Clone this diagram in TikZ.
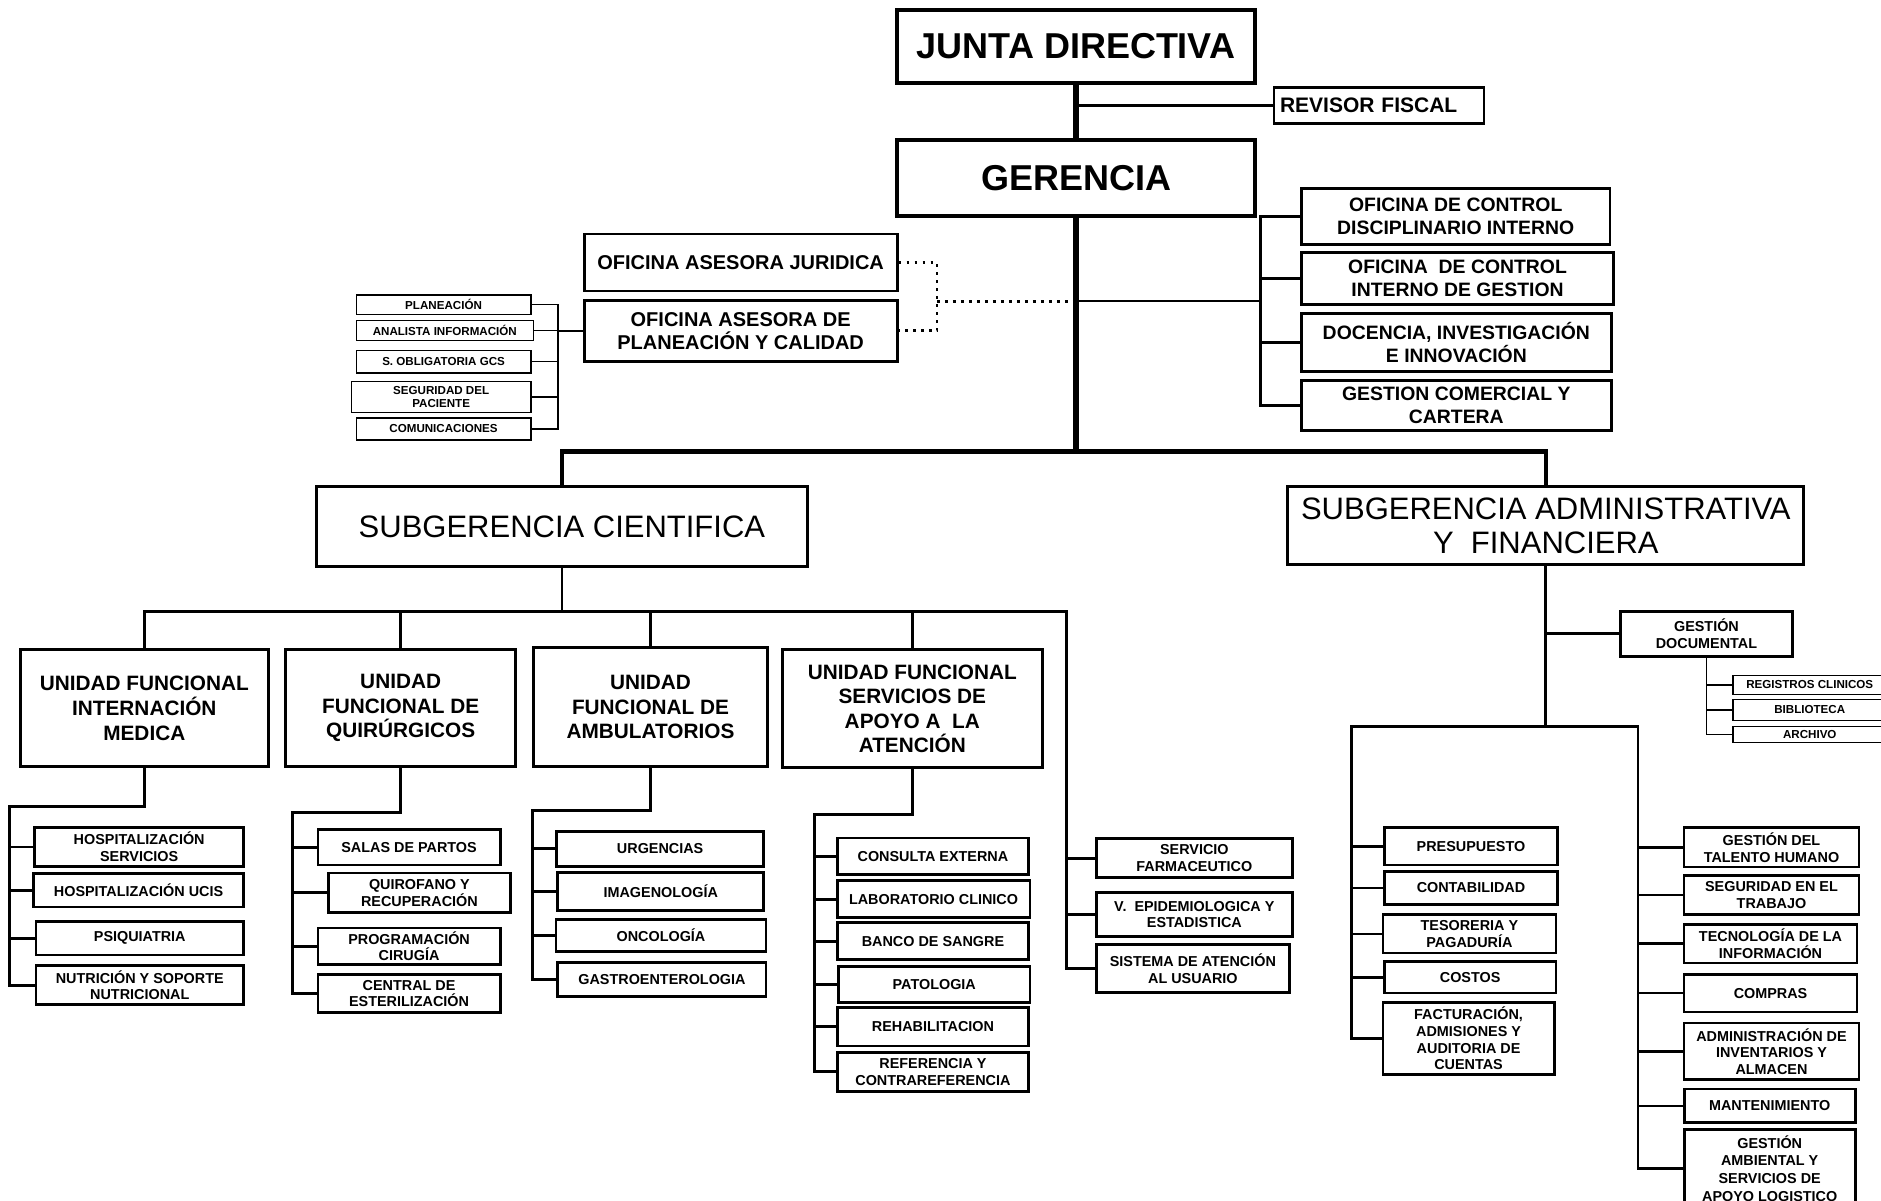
\documentclass[tikz,border=0pt]{standalone}
\usepackage{fontspec}
\setmainfont{Liberation Sans}

\tikzset{every picture/.style={line width=0.75pt}}
\tikzset{
  wh/.style 2 args={minimum width=0.6pt*#1, minimum height=0.6pt*#2},
  topbox/.style={draw, line width=2pt, inner sep=0pt, font=\bfseries\fontsize{18}{21}\selectfont},
  ofibox/.style={draw, line width=1.4pt, inner sep=0pt, align=center, font=\bfseries\fontsize{9.7}{11.4}\selectfont},
  subgbox/.style={draw, line width=1.5pt, inner sep=0pt, align=center, font=\fontsize{15.5}{16.8}\selectfont},
  ufbox/.style={draw, line width=1.5pt, inner sep=0pt, align=center, font=\bfseries\fontsize{10.4}{12.3}\selectfont},
  unitbox/.style={draw, line width=1.4pt, inner sep=0pt, align=center, font=\bfseries\fontsize{7.2}{8.3}\selectfont},
  tinybox/.style={draw, line width=0.7pt, inner sep=0pt, align=center, font=\bfseries\fontsize{5.8}{6.6}\selectfont},
  trunk/.style={line width=3pt},
  bar/.style={line width=2.2pt},
  bus/.style={line width=1.4pt},
  thinbus/.style={line width=0.8pt},
  dotline/.style={line width=1.4pt, dash pattern=on 1.4pt off 2.6pt}
}

\begin{document}
\begin{tikzpicture}[x=0.6pt,y=0.6pt,yscale=-1,xscale=1]
    \useasboundingbox (0,0) rectangle (1568,1001);
    \clip (0,0) rectangle (1568,1001);
    %Shape: Rectangle -- direccion
    \node[topbox, wh={298}{61}] (jd) at (897,38.5) {JUNTA DIRECTIVA};
    \node[topbox, wh={298}{63}] (ger) at (897,148.5) {GERENCIA};
    \node[ofibox, wh={175}{30}, text width=0.6pt*165, align=left, font=\bfseries\fontsize{10.5}{12}\selectfont] (rf) at (1149.5,88) {REVISOR FISCAL};
    % oficinas a la derecha
    \node[ofibox, wh={257}{47}] (cdi) at (1213.5,180.5) {OFICINA DE CONTROL\\DISCIPLINARIO INTERNO};
    \node[ofibox, wh={260}{43}] (cig) at (1215,232) {OFICINA~~DE CONTROL\\INTERNO DE GESTION};
    \node[ofibox, wh={258}{49}] (dii) at (1214,285.5) {DOCENCIA, INVESTIGACIÓN\\E INNOVACIÓN};
    \node[ofibox, wh={258}{42}] (gcc) at (1214,338) {GESTION COMERCIAL Y\\CARTERA};
    % asesoras
    \node[ofibox, wh={261}{47.6}, font=\bfseries\fontsize{10}{11.6}\selectfont] (oaj) at (617.4,218.8) {OFICINA ASESORA JURIDICA};
    \node[ofibox, wh={261}{51}, font=\bfseries\fontsize{10}{11.6}\selectfont] (oapc) at (617.4,275.7) {OFICINA ASESORA DE\\PLANEACIÓN Y CALIDAD};
    \node[tinybox, wh={145.5}{16.2}] (plan) at (369.75,253.9) {PLANEACIÓN};
    \node[tinybox, wh={147.6}{17}] (anal) at (370.8,275.5) {ANALISTA INFORMACIÓN};
    \node[tinybox, wh={145.5}{19}] (sogc) at (369.75,301.5) {S. OBLIGATORIA GCS};
    \node[tinybox, wh={149.5}{26}] (segp) at (367.75,331) {SEGURIDAD DEL\\PACIENTE};
    \node[tinybox, wh={145.5}{18.2}] (comu) at (369.75,357.6) {COMUNICACIONES};
    % subgerencias
    \node[subgbox, wh={409}{66.4}] (sc) at (468.4,438.8) {SUBGERENCIA CIENTIFICA};
    \node[subgbox, wh={430.3}{65.2}] (saf) at (1288.6,438.2) {SUBGERENCIA ADMINISTRATIVA\\Y~~FINANCIERA};
    % unidades funcionales
    \node[ufbox, wh={206.6}{97.3}] (ufim) at (120.3,590.4) {UNIDAD FUNCIONAL\\INTERNACIÓN\\MEDICA};
    \node[ufbox, wh={192}{97.3}] (ufq) at (334,590.4) {UNIDAD\\FUNCIONAL DE\\QUIRÚRGICOS};
    \node[ufbox, wh={194.5}{99}] (ufa) at (542.3,589.5) {UNIDAD\\FUNCIONAL DE\\AMBULATORIOS};
    \node[ufbox, wh={217}{98.3}] (ufs) at (760.5,590.9) {UNIDAD FUNCIONAL\\SERVICIOS DE\\APOYO A~~LA\\ATENCIÓN};
    % internacion
    \node[unitbox, wh={174}{32}] (hs) at (116,706) {HOSPITALIZACIÓN\\SERVICIOS};
    \node[unitbox, wh={175}{28}] (hu) at (115.5,742) {HOSPITALIZACIÓN UCIS};
    \node[unitbox, wh={173}{28}] (ps) at (116.5,782) {PSIQUIATRIA};
    \node[unitbox, wh={173}{32.5}] (nut) at (116.5,821.3) {NUTRICIÓN Y SOPORTE\\NUTRICIONAL};
    % quirurgicos
    \node[unitbox, wh={152}{29.3}] (sp) at (341,706.4) {SALAS DE PARTOS};
    \node[unitbox, wh={152}{32.8}] (qr) at (349.6,744.2) {QUIROFANO Y\\RECUPERACIÓN};
    \node[unitbox, wh={152}{30.4}] (pc) at (341,788.8) {PROGRAMACIÓN\\CIRUGÍA};
    \node[unitbox, wh={152}{31.5}] (ce) at (341,828.3) {CENTRAL DE\\ESTERILIZACIÓN};
    % ambulatorios
    \node[unitbox, wh={172.6}{29}] (urg) at (550.3,707.5) {URGENCIAS};
    \node[unitbox, wh={171.6}{32}] (img) at (550.8,743) {IMAGENOLOGÍA};
    \node[unitbox, wh={175}{26.3}] (onc) at (551,779.9) {ONCOLOGÍA};
    \node[unitbox, wh={173.6}{28.5}] (gas) at (551.8,816.3) {GASTROENTEROLOGIA};
    % apoyo a la atencion
    \node[unitbox, wh={159.7}{30.4}] (cex) at (777.7,713.8) {CONSULTA EXTERNA};
    \node[unitbox, wh={160.7}{31}] (lab) at (778.2,749.5) {LABORATORIO CLINICO};
    \node[unitbox, wh={159.7}{31}] (bds) at (777.7,784.5) {BANCO DE SANGRE};
    \node[unitbox, wh={159.5}{30}] (pat) at (778.8,820.5) {PATOLOGIA};
    \node[unitbox, wh={159.7}{32}] (reh) at (777.7,856) {REHABILITACION};
    \node[unitbox, wh={159.5}{32.7}] (cref) at (777.7,893.4) {REFERENCIA Y\\CONTRAREFERENCIA};
    \node[unitbox, wh={163.8}{32.7}] (sf) at (995.6,715.4) {SERVICIO\\FARMACEUTICO};
    \node[unitbox, wh={163.8}{36.5}] (vep) at (995.6,762.3) {V.~~EPIDEMIOLOGICA Y\\ESTADISTICA};
    \node[unitbox, wh={161.3}{40}] (sau) at (994.4,807.5) {SISTEMA DE ATENCIÓN\\AL USUARIO};
    % administrativa
    \node[unitbox, wh={143}{37.3}] (gd) at (1422.5,528.4) {GESTIÓN\\DOCUMENTAL};
    \node[tinybox, wh={128}{16}] (rc) at (1508.6,571) {REGISTROS CLINICOS};
    \node[tinybox, wh={128}{17.6}] (bib) at (1508.6,591.8) {BIBLIOTECA};
    \node[tinybox, wh={128}{13.4}] (arc) at (1508.6,612.3) {ARCHIVO};
    \node[unitbox, wh={144.4}{31}] (pre) at (1226.2,705.5) {PRESUPUESTO};
    \node[unitbox, wh={144.4}{27.6}] (con) at (1226.2,740.2) {CONTABILIDAD};
    \node[unitbox, wh={144.2}{31.9}] (tes) at (1224.9,778.5) {TESORERIA Y\\PAGADURÍA};
    \node[unitbox, wh={143}{26.4}] (cost) at (1225.5,814.6) {COSTOS};
    \node[unitbox, wh={142.8}{60.3}] (fac) at (1224.2,865.7) {FACTURACIÓN,\\ADMISIONES Y\\AUDITORIA DE\\CUENTAS};
    \node[unitbox, wh={145.8}{32.8}] (gth) at (1476.7,706.4) {GESTIÓN DEL\\TALENTO HUMANO};
    \node[unitbox, wh={145.8}{32}] (set) at (1476.7,746) {SEGURIDAD EN EL\\TRABAJO};
    \node[unitbox, wh={144.2}{32}] (tec) at (1475.9,786.8) {TECNOLOGÍA DE LA\\INFORMACIÓN};
    \node[unitbox, wh={144.2}{31.6}] (com) at (1475.9,827.8) {COMPRAS};
    \node[unitbox, wh={145.8}{47.2}] (adm) at (1476.7,876.4) {ADMINISTRACIÓN DE\\INVENTARIOS Y\\ALMACEN};
    \node[unitbox, wh={142.7}{28.2}] (man) at (1475.2,921.9) {MANTENIMIENTO};
    \node[unitbox, wh={142.7}{64.3}, font=\bfseries\fontsize{7.2}{8.8}\selectfont] (gam) at (1475.2,973.9) {GESTIÓN\\AMBIENTAL Y\\SERVICIOS DE\\APOYO LOGISTICO};

    %Straight Lines -- tronco
    \coordinate (gbar) at (897,376.4);
    \draw[trunk] (jd.south) -- (ger.north);
    \draw[bus] (rf.west) -- (rf.west -| ger.north);
    \draw[trunk] (ger.south) -- (gbar);
    \draw[bar] (sc.north) |- (gbar) -| (saf.north);
    % oficinas de control
    \coordinate (rbr) at (1051,251);
    \draw[thinbus] (gbar |- rbr) -- (rbr);
    \draw[bus] (cdi.west) -| (rbr) |- (gcc.west);
    \foreach \n in {cig,dii} \draw[bus] (rbr |- \n.west) -- (\n.west);
    % asesoras, punteado
    \coordinate (dotv) at (781,251);
    \draw[dotline] (oaj.east) -| (dotv) |- (oapc.east);
    \draw[dotline] (dotv) -- (gbar |- dotv);
    \coordinate (pbr) at (465,253.9);
    \draw[thinbus] (plan.east) -- (pbr) |- (comu.east);
    \foreach \n in {anal,sogc,segp} \draw[thinbus] (\n.east) -- (\n.east -| pbr);
    \draw[thinbus] (oapc.west) -- (oapc.west -| pbr);
    % subgerencia cientifica
    \coordinate (scbar) at (889,509.7);
    \draw[bus] (sc.south) -- (sc.south |- scbar);
    \draw[bus] (ufim.north) |- (scbar) |- (sau.west);
    \foreach \n in {ufq,ufa,ufs} \draw[bus] (\n.north) -- (\n.north |- scbar);
    \foreach \n in {sf,vep} \draw[bus] (scbar |- \n.west) -- (\n.west);
    \coordinate (imbus) at (7.8,672);
    \draw[bus] (ufim.south) |- (imbus) |- (nut.west);
    \foreach \n in {hs,hu,ps} \draw[bus] (imbus |- \n.west) -- (\n.west);
    \coordinate (qbus) at (243.6,677);
    \draw[bus] (ufq.south) |- (qbus) |- (ce.west);
    \foreach \n in {sp,qr,pc} \draw[bus] (qbus |- \n.west) -- (\n.west);
    \coordinate (abus) at (444,675.6);
    \draw[bus] (ufa.south) |- (abus) |- (gas.west);
    \foreach \n in {urg,img,onc} \draw[bus] (abus |- \n.west) -- (\n.west);
    \coordinate (sbus) at (679.2,679);
    \draw[bus] (ufs.south) |- (sbus) |- (cref.west);
    \foreach \n in {cex,lab,bds,pat,reh} \draw[bus] (sbus |- \n.west) -- (\n.west);
    % subgerencia administrativa
    \coordinate (lbus) at (1126.3,605.6);
    \coordinate (rbus) at (1365.4,605.6);
    \draw[bus] (saf.south) -- (saf.south |- lbus);
    \draw[bus] (gd.west) -- (gd.west -| saf.south);
    \draw[thinbus] (gd.south) |- (arc.west);
    \foreach \n in {rc,bib} \draw[thinbus] (gd.south |- \n.west) -- (\n.west);
    \draw[bus] (fac.west) -| (lbus) -- (rbus) |- (gam.west);
    \foreach \n in {pre,con,tes,cost} \draw[bus] (lbus |- \n.west) -- (\n.west);
    \foreach \n in {gth,set,tec,com,adm,man} \draw[bus] (rbus |- \n.west) -- (\n.west);
\end{tikzpicture}
\end{document}
